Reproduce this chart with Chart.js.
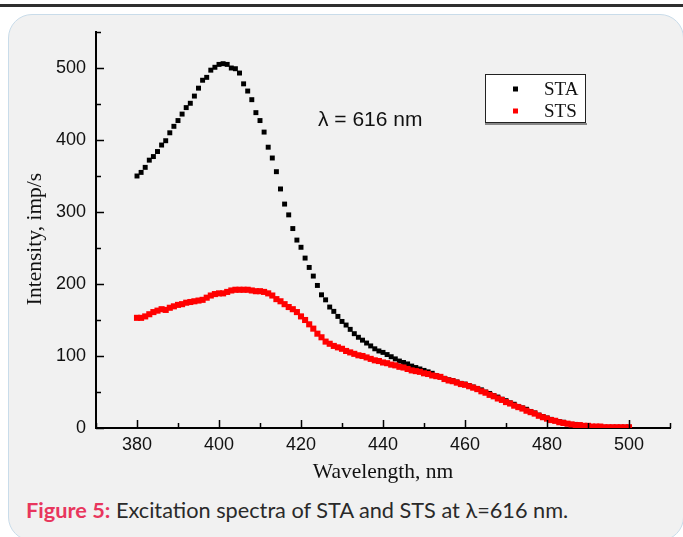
<!DOCTYPE html>
<html>
<head>
<meta charset="utf-8">
<script src="https://cdn.jsdelivr.net/npm/chart.js@4.4.1/dist/chart.umd.min.js"></script>
<style>
  html, body { margin: 0; padding: 0; background: #fff; }
  body { width: 683px; height: 537px; position: relative; overflow: hidden; }
  .topbar { position: absolute; left: 0; top: 4px; width: 683px; height: 3px; background: #2e2e2e; }
  .card { position: absolute; left: 8px; top: 14px; width: 676px; height: 527px; box-sizing: border-box;
          background: #f1f1f1; border: 1px solid #c9dcea; border-radius: 24px; }
  #chart { position: absolute; left: 0; top: 0; }
  .caption { position: absolute; left: 26px; top: 498px; font-family: Lato, sans-serif; font-size: 20px;
             line-height: 24px; color: #2a2a2a; white-space: nowrap; }
  .caption b { color: #e8365d; }
</style>
</head>
<body>
<div class="topbar"></div>
<div class="card"></div>
<canvas id="chart" width="683" height="490"></canvas>
<div class="caption" id="caption"><b>Figure 5:</b> Excitation spectra of STA and STS at λ=616 nm.</div>

<script>
// DATA (1 nm steps)
const wavelengths = [
  380, 381, 382, 383, 384, 385, 386, 387, 388, 389,
  390, 391, 392, 393, 394, 395, 396, 397, 398, 399,
  400, 401, 402, 403, 404, 405, 406, 407, 408, 409,
  410, 411, 412, 413, 414, 415, 416, 417, 418, 419,
  420, 421, 422, 423, 424, 425, 426, 427, 428, 429,
  430, 431, 432, 433, 434, 435, 436, 437, 438, 439,
  440, 441, 442, 443, 444, 445, 446, 447, 448, 449,
  450, 451, 452, 453, 454, 455, 456, 457, 458, 459,
  460, 461, 462, 463, 464, 465, 466, 467, 468, 469,
  470, 471, 472, 473, 474, 475, 476, 477, 478, 479,
  480, 481, 482, 483, 484, 485, 486, 487, 488, 489,
  490, 491, 492, 493, 494, 495, 496, 497, 498, 499,
  500
];

const staValues = [
  350, 355, 362, 372, 377, 384, 393, 399, 410, 419,
  427, 436, 445, 451, 461, 472, 483, 487, 497, 501,
  505, 506, 505, 500, 499, 493, 478, 468, 456, 438,
  427, 411, 390, 375, 356, 332, 311, 296, 277, 261,
  251, 236, 223, 211, 198, 185, 178, 168, 162, 155,
  148, 143, 137, 131, 126, 122, 118, 114, 110, 107,
  105, 102, 99, 96, 93, 91, 89, 86, 84, 82,
  80, 78, 76, 73, 71, 69, 67, 66, 64, 62,
  61, 59, 57, 55, 53, 50, 48, 45, 43, 40,
  38, 35, 33, 30, 28, 26, 23, 21, 18, 16,
  14, 12, 10, 9, 8, 6, 5, 5, 4, 3,
  3, 2, 2, 2, 1, 1, 1, 1, 1, 1,
  1
];

const stsValues = [
  153, 153, 155, 158, 161, 163, 165, 164, 167, 169,
  171, 172, 174, 175, 176, 177, 178, 181, 184, 186,
  187, 187, 189, 191, 192, 192, 192, 192, 191, 190,
  190, 189, 187, 184, 179, 176, 172, 168, 165, 161,
  155, 150, 144, 138, 131, 126, 120, 117, 114, 112,
  110, 107, 105, 103, 101, 100, 98, 96, 94, 93,
  91, 90, 88, 87, 85, 84, 82, 80, 79, 78,
  76, 75, 73, 72, 71, 68, 66, 65, 63, 61,
  60, 58, 56, 54, 51, 49, 46, 44, 41, 39,
  36, 34, 31, 29, 27, 24, 22, 20, 17, 15,
  13, 11, 10, 8, 7, 6, 5, 4, 4, 3,
  3, 2, 2, 2, 1, 1, 1, 1, 1, 1,
  1
];

const seriesNames = ['STA', 'STS'];
const seriesColors = ['#000000', '#ff0000'];

const xTickValues = [380, 400, 420, 440, 460, 480, 500];
const xMinorTicks = [370, 390, 410, 430, 450, 470, 490, 510];
const yTickValues = [0, 100, 200, 300, 400, 500];
const yMinorTicks = [50, 150, 250, 350, 450, 550];

const toPoints = vals => vals.map((v, i) => ({ x: wavelengths[i], y: v }));

// inward ticks, axis titles, note and legend box
const decor = {
  id: 'decor',
  afterDraw(chart) {
    const { ctx, chartArea: a, scales: { x, y } } = chart;
    ctx.save();
    ctx.strokeStyle = '#000';
    ctx.lineWidth = 1.5;
    ctx.beginPath();
    xTickValues.forEach(v => { const px = Math.round(x.getPixelForValue(v)) + 0.5; ctx.moveTo(px, a.bottom); ctx.lineTo(px, a.bottom - 8); });
    xMinorTicks.forEach(v => { const px = Math.round(x.getPixelForValue(v)) + 0.5; ctx.moveTo(px, a.bottom); ctx.lineTo(px, a.bottom - 5); });
    yTickValues.forEach(v => { const py = Math.round(y.getPixelForValue(v)) + 0.5; ctx.moveTo(a.left, py); ctx.lineTo(a.left + 8, py); });
    yMinorTicks.forEach(v => { const py = Math.round(y.getPixelForValue(v)) + 0.5; ctx.moveTo(a.left, py); ctx.lineTo(a.left + 5, py); });
    ctx.stroke();

    // axis titles
    ctx.fillStyle = '#111';
    ctx.font = '21.5px "Liberation Serif", serif';
    ctx.textAlign = 'center';
    ctx.textBaseline = 'middle';
    ctx.fillText('Wavelength, nm', (a.left + a.right) / 2, 472);
    ctx.save();
    ctx.translate(35, 239);
    ctx.rotate(-Math.PI / 2);
    ctx.fillText('Intensity, imp/s', 0, 0);
    ctx.restore();

    // note
    ctx.font = '21px "Liberation Sans", sans-serif';
    ctx.textAlign = 'left';
    ctx.fillText('\u03bb = 616 nm', 318, 120);

    // legend box
    ctx.fillStyle = '#fff';
    ctx.fillRect(485, 74, 101, 49);
    ctx.lineWidth = 1;
    ctx.strokeStyle = '#222';
    ctx.strokeRect(485.5, 74.5, 100, 48);
    ctx.strokeStyle = '#888';
    ctx.lineWidth = 2;
    ctx.beginPath(); ctx.moveTo(485, 124); ctx.lineTo(587, 124); ctx.stroke();
    ctx.font = '19px "Liberation Serif", serif';
    seriesNames.forEach((name, i) => {
      const cy = 89 + i * 22;
      ctx.fillStyle = seriesColors[i];
      ctx.fillRect(513, cy - 2.5, 5, 5);
      ctx.fillStyle = '#111';
      ctx.fillText(name, 544, cy + 1);
    });
    ctx.restore();
  }
};

const ctx = document.getElementById('chart');
const chart = new Chart(ctx, {
  type: 'line',
  data: {
    datasets: [
      {
        label: seriesNames[0],
        data: toPoints(staValues),
        showLine: false,
        pointStyle: 'rect',
        pointRadius: 3.5,
        pointBorderWidth: 0,
        pointBackgroundColor: seriesColors[0],
        borderColor: seriesColors[0],
        order: 2
      },
      {
        label: seriesNames[1],
        data: toPoints(stsValues),
        showLine: false,
        pointStyle: 'rect',
        pointRadius: 4.3,
        pointBorderWidth: 0,
        pointBackgroundColor: seriesColors[1],
        borderColor: seriesColors[1],
        order: 1
      }
    ]
  },
  options: {
    responsive: false,
    animation: false,
    devicePixelRatio: 1,
    layout: { padding: { left: 0, top: 32, right: 13, bottom: 0 } },
    plugins: { legend: { display: false }, tooltip: { enabled: false } },
    scales: {
      x: {
        type: 'linear',
        min: 370,
        max: 510,
        afterFit: s => { s.height = 62; },
        afterBuildTicks: s => { s.ticks = xTickValues.map(v => ({ value: v })); },
        grid: { display: false, drawTicks: false },
        border: { display: true, color: '#000', width: 2 },
        ticks: { padding: 6, color: '#111', font: { family: 'Liberation Sans', size: 18 } }
      },
      y: {
        type: 'linear',
        min: 0,
        max: 550,
        afterFit: s => { s.width = 96; },
        afterBuildTicks: s => { s.ticks = yTickValues.map(v => ({ value: v })); },
        grid: { display: false, drawTicks: false },
        border: { display: true, color: '#000', width: 2 },
        ticks: { padding: 10, color: '#111', font: { family: 'Liberation Sans', size: 18 } }
      }
    }
  },
  plugins: [decor]
});

// fit caption to the width it has in the figure
const cap = document.getElementById('caption');
const fs = 20 * 542 / cap.offsetWidth;
cap.style.fontSize = fs.toFixed(2) + 'px';
</script>
</body>
</html>
